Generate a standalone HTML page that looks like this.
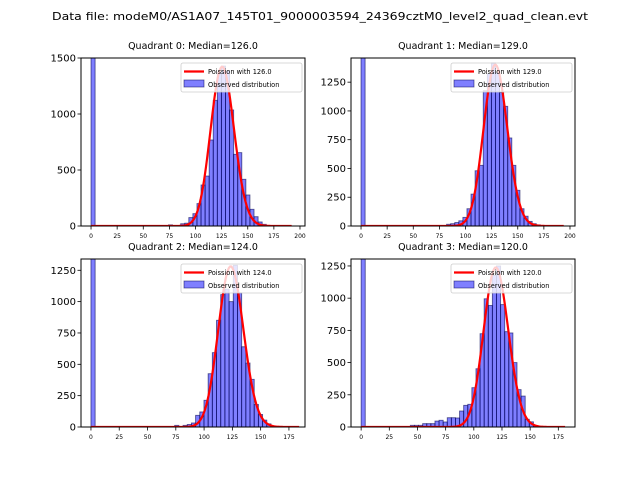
<!DOCTYPE html>
<html><head><meta charset="utf-8"><style>
html,body{margin:0;padding:0;background:#fff;}
svg{display:block;font-family:"DejaVu Sans","Liberation Sans",sans-serif;}
</style></head><body>
<svg id="fig" width="640" height="480" viewBox="0 0 640 480" xmlns="http://www.w3.org/2000/svg">
<rect width="640" height="480" fill="#fff"/>
<text x="320" y="20" font-size="11" text-anchor="middle" textLength="536" lengthAdjust="spacingAndGlyphs">Data file: modeM0/AS1A07_145T01_9000003594_24369cztM0_level2_quad_clean.evt</text>
</svg>
<script>
// ---- data ----
const medians = [126.0, 129.0, 124.0, 120.0];
const binWidths = [3.9, 3.9, 3.7, 3.64];
const counts0 = [1600,0,0,0,0,0,0,0,0,0,0,0,0,0,0,0,0,0,0,10,0,0,20,25,75,110,200,366,446,768,1122,1369,1428,1384,1036,640,655,417,277,149,83,36,15,5,0,0,0,0,0,0];
const counts1 = [1600,0,0,0,0,0,0,0,0,0,0,0,0,0,0,0,0,0,0,0,0,15,20,30,45,75,150,277,480,527,1176,1324,1414,1330,1160,1040,765,527,310,150,85,40,20,10,0,0,0,0,0,0];
const counts2 = [1600,0,0,0,0,0,0,0,0,0,0,0,0,0,0,0,0,0,0,0,13,0,13,20,32,93,120,213,425,593,851,1056,1100,1000,1290,1070,640,510,380,180,100,55,25,5,0,0,0,0,0,0];
const counts3 = [1600,0,0,0,0,0,0,0,0,0,0,0,13,13,13,26,26,26,46,52,39,72,72,70,124,168,176,305,452,724,995,943,1176,1250,950,740,730,500,290,240,60,40,10,0,0,0,0,0,0,0];
const poissonScale = [40000, 39900, 35750, 34000];
const curveEnd = [192, 194, 184, 181];
const yTicks0 = [0,500,1000,1500];
const yTicks1 = [0,250,500,750,1000,1250];
const yTicks2 = [0,250,500,750,1000,1250];
const yTicks3 = [0,250,500,750,1000,1250];
const xTicks01 = [0,25,50,75,100,125,150,175,200];
const xTicks23 = [0,25,50,75,100,125,150,175];
const yMax = [1500, 1460, 1340, 1304];
const xMin = [-9.6, -9.6, -8.8, -9.0];
const xMax = [204.8, 204.8, 189.2, 189.8];

const NS = "http://www.w3.org/2000/svg";
const fig = document.getElementById('fig');
function mk(tag, attrs, parent){const e=document.createElementNS(NS,tag);for(const k in attrs)e.setAttribute(k,attrs[k]);(parent||fig).appendChild(e);return e;}
function lgamma(z){const c=[76.18009172947146,-86.50532032941677,24.01409824083091,-1.231739572450155,0.1208650973866179e-2,-0.5395239384953e-5];let x=z,y=z,t=x+5.5;t-=(x+0.5)*Math.log(t);let s=1.000000000190015;for(let j=0;j<6;j++)s+=c[j]/++y;return -t+Math.log(2.5066282746310005*s/x);}
function pmf(k,l){return Math.exp(k*Math.log(l)-l-lgamma(k+1));}

const boxes = [{x:81,y:58,w:224,h:168},{x:351,y:58,w:224,h:168},{x:81,y:259,w:224,h:168},{x:351,y:259,w:224,h:168}];
const countsAll=[counts0,counts1,counts2,counts3];
const yTicksAll=[yTicks0,yTicks1,yTicks2,yTicks3];
const xTicksAll=[xTicks01,xTicks01,xTicks23,xTicks23];

for(let p=0;p<4;p++){
  const b=boxes[p];
  const g=mk('g',{});
  
  
  const sx=v=>b.x+(v-xMin[p])/(xMax[p]-xMin[p])*b.w;
  const sy=v=>b.y+b.h-Math.min(v,yMax[p]*1.05)/yMax[p]*b.h;
  const clip=mk('clipPath',{id:'c'+p},g);mk('rect',{x:b.x,y:b.y,width:b.w,height:b.h},clip);
  const title=mk('text',{x:b.x+b.w/2,y:b.y-9,'font-size':'9.5','text-anchor':'middle'},g);
  title.textContent='Quadrant '+p+': Median='+medians[p].toFixed(1);
  
  
  const bg=mk('g',{'clip-path':'url(#c'+p+')'},g);
  const cs=countsAll[p];
  for(let i=0;i<cs.length;i++){
    if(cs[i]<=0)continue;
    const x0=sx(i*binWidths[p]),x1=sx((i+1)*binWidths[p]);
    const r=mk('rect',{x:x0,y:sy(cs[i]),width:x1-x0,height:b.y+b.h-sy(cs[i]),fill:'rgba(0,0,255,0.5)',stroke:'rgba(0,0,80,0.6)','stroke-width':'0.9'},bg);
    
    
  }
  let d='';
  for(let k=0;k<=curveEnd[p];k++){d+=(k?'L':'M')+sx(k).toFixed(2)+','+sy(poissonScale[p]*pmf(k,medians[p])).toFixed(2);}
  const pl=mk('path',{d:d,fill:'none',stroke:'#ff0000','stroke-width':'2.2'},bg);
  
  
  const fr=mk('rect',{x:b.x,y:b.y,width:b.w,height:b.h,fill:'none',stroke:'#000','stroke-width':'1'},g);
  
  
  for(const t of yTicksAll[p]){
    const y=sy(t);
    mk('line',{x1:b.x-3.5,x2:b.x,y1:y,y2:y,stroke:'#000','stroke-width':'0.8'},g);
    const tl=mk('text',{x:b.x-5,y:y+3.5,'font-size':'10','text-anchor':'end'},g);
    tl.textContent=t;
    
    
  }
  for(const t of xTicksAll[p]){
    const x=sx(t);
    mk('line',{x1:x,x2:x,y1:b.y+b.h,y2:b.y+b.h+3.5,stroke:'#000','stroke-width':'0.8'},g);
    const tl=mk('text',{x:x,y:b.y+b.h+12,'font-size':'6','text-anchor':'middle'},g);
    tl.textContent=t;
    
    
  }
  const lg=mk('g',{},g);
  
  
  const lx=b.x+b.w-124,ly=b.y+5;
  mk('rect',{x:lx,y:ly,width:121,height:29,rx:2,fill:'rgba(255,255,255,0.8)',stroke:'#ccc','stroke-width':'0.8'},lg);
  mk('line',{x1:lx+3,x2:lx+23,y1:ly+8.5,y2:ly+8.5,stroke:'#ff0000','stroke-width':'2.2'},lg);
  const t1=mk('text',{x:lx+27,y:ly+11,'font-size':'6.6'},lg);t1.textContent='Poission with '+medians[p].toFixed(1);
  
  
  mk('rect',{x:lx+3,y:ly+17,width:20,height:7,fill:'rgba(0,0,255,0.5)',stroke:'rgba(0,0,80,0.6)','stroke-width':'0.8'},lg);
  const t2=mk('text',{x:lx+27,y:ly+24,'font-size':'6.6'},lg);t2.textContent='Observed distribution';
  
  
}
</script>
</body></html>
